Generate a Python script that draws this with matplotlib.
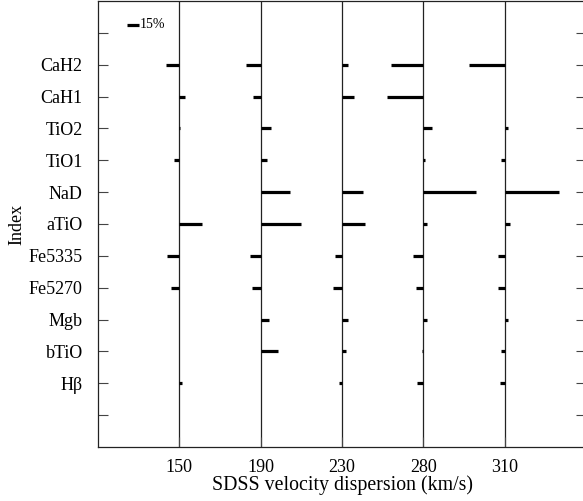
import matplotlib
matplotlib.use("Agg")
import matplotlib.pyplot as plt

plt.rcParams['font.family'] = ['Liberation Serif', 'DejaVu Serif']
plt.rcParams['mathtext.fontset'] = 'stix'

# Indices listed from bottom to top
indices = ["Hβ", "bTiO", "Mgb", "Fe5270", "Fe5335", "aTiO", "NaD", "TiO1", "TiO2", "CaH1", "CaH2"]
dispersions = ["150", "190", "230", "280", "310"]

# Percentage change per index (same order as indices) for each velocity dispersion
pct_150 = [3.7, -0.5, -0.5, -10.3, -15.7, 28.0, -0.5, -6.0, 1.0, 7.0, -16.5]
pct_190 = [0.5, 21.4, 9.9, -10.3, -13.6, 49.0, 36.6, 8.2, 13.2, -9.5, -18.5]
pct_230 = [-3.3, 5.3, 7.4, -11.5, -9.0, 28.8, 26.3, 0.3, 0.5, 15.2, 7.8]
pct_280 = [-7.4, -1.2, 4.1, -9.0, -12.3, 4.1, 64.6, 2.0, 10.3, -44.4, -39.9]
pct_310 = [-5.8, -4.1, 4.6, -8.2, -8.2, 7.0, 67.0, -4.1, 4.1, 0.5, -43.6]
series = [pct_150, pct_190, pct_230, pct_280, pct_310]

legend_pct = 15

W, H = 583, 501
fig = plt.figure(figsize=(W / 100, H / 100), dpi=100)
ax = fig.add_axes([98 / W, 54 / H, 488 / W, 446 / H])

n = len(indices)
ax.set_xlim(0, len(dispersions) + 1)
ax.set_ylim(0, n + 3)

bar_lw = 2.3
for i, vals in enumerate(series):
    x0 = i + 1
    ax.axvline(x0, color='#222222', lw=0.9, zorder=1)
    for j, v in enumerate(vals):
        y = j + 2
        ax.hlines(y, x0, x0 + v / 100.0, colors='black', lw=bar_lw,
                  capstyle='butt', zorder=3)

# scale legend bar
lx, ly = 0.358, n + 2.25
ax.hlines(ly, lx, lx + legend_pct / 100.0, colors='black', lw=bar_lw, capstyle='butt')
ax.text(lx + legend_pct / 100.0 + 0.01, ly, f"{legend_pct}%", fontsize=10,
        va='center', ha='left')

ax.set_yticks(range(1, n + 3))
ax.set_yticklabels([""] + indices + [""])
ax.set_xticks(range(1, len(dispersions) + 1))
ax.set_xticklabels(dispersions)

ax.tick_params(axis='y', direction='in', length=7.5, width=0.8, color='#444444',
               left=True, right=True, labelsize=13, pad=11)
ax.tick_params(axis='x', direction='in', length=7.5, width=0.8, color='#444444',
               top=False, labelsize=13, pad=9)
for s in ax.spines.values():
    s.set_linewidth(0.9)
    s.set_color('#222222')
ax.spines['right'].set_visible(False)

ax.set_xlabel("SDSS velocity dispersion (km/s)", fontsize=14.3, labelpad=-1)
ax.set_ylabel("Index", fontsize=13, labelpad=2)

fig.savefig("out.png", dpi=100)
